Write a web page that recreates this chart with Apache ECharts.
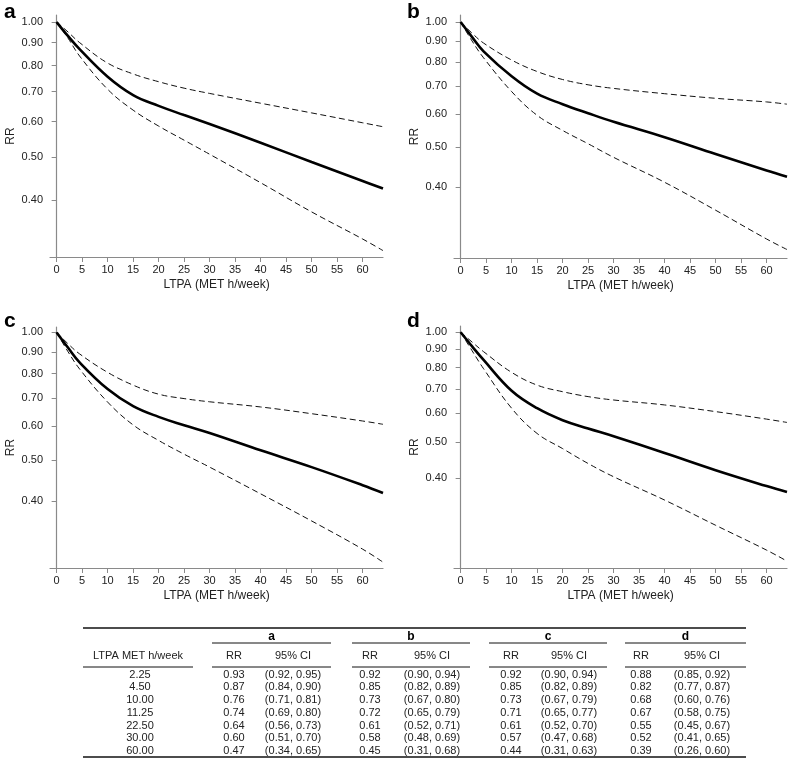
<!DOCTYPE html>
<html>
<head>
<meta charset="utf-8">
<script src="https://cdn.jsdelivr.net/npm/echarts@6/dist/echarts.min.js"></script>
<style>
html,body{margin:0;padding:0;background:#fff;}
#chart{width:794px;height:759px;}
</style>
</head>
<body>
<div id="chart"></div>
<script>
// ---- curve data ----
var xVals = [0, 2.25, 4.5, 10, 15, 20, 25, 30, 40, 50, 60, 64];

var rrA = [1, 0.93, 0.87, 0.755, 0.687, 0.65, 0.62, 0.592, 0.538, 0.487, 0.442, 0.425];
var upA = [1, 0.95, 0.90, 0.81, 0.766, 0.736, 0.712, 0.693, 0.659, 0.627, 0.596, 0.584];
var loA = [1, 0.92, 0.84, 0.708, 0.636, 0.586, 0.545, 0.507, 0.438, 0.377, 0.328, 0.309];

var rrB = [1, 0.92, 0.85, 0.74, 0.672, 0.634, 0.603, 0.575, 0.528, 0.481, 0.439, 0.424];
var upB = [1, 0.94, 0.89, 0.81, 0.76, 0.727, 0.706, 0.692, 0.672, 0.655, 0.642, 0.634];
var loB = [1, 0.90, 0.82, 0.68, 0.596, 0.548, 0.509, 0.472, 0.411, 0.352, 0.30, 0.283];

var rrC = [1, 0.92, 0.85, 0.735, 0.67, 0.632, 0.604, 0.579, 0.527, 0.481, 0.436, 0.418];
var upC = [1, 0.94, 0.89, 0.805, 0.751, 0.715, 0.698, 0.686, 0.667, 0.643, 0.618, 0.607];
var loC = [1, 0.90, 0.82, 0.685, 0.605, 0.556, 0.516, 0.481, 0.416, 0.359, 0.308, 0.287];

var rrD = [1, 0.915, 0.84, 0.692, 0.62, 0.575, 0.546, 0.52, 0.468, 0.42, 0.38, 0.366];
var upD = [1, 0.94, 0.885, 0.777, 0.717, 0.688, 0.667, 0.653, 0.633, 0.607, 0.579, 0.567];
var loD = [1, 0.89, 0.795, 0.62, 0.529, 0.481, 0.438, 0.403, 0.348, 0.297, 0.254, 0.237];

// ---- axis ticks ----
var xTicks = [0, 5, 10, 15, 20, 25, 30, 35, 40, 45, 50, 55, 60];
var yTicks = [0.4, 0.5, 0.6, 0.7, 0.8, 0.9, 1.0];
var panelLetters = ['a', 'b', 'c', 'd'];
var xTitle = 'LTPA (MET h/week)';
var yTitle = 'RR';

// ---- table data ----
var tabLTPA = ['2.25', '4.50', '10.00', '11.25', '22.50', '30.00', '60.00'];
var tabRR = {
  a: [0.93, 0.87, 0.76, 0.74, 0.64, 0.60, 0.47],
  b: [0.92, 0.85, 0.73, 0.72, 0.61, 0.58, 0.45],
  c: [0.92, 0.85, 0.73, 0.71, 0.61, 0.57, 0.44],
  d: [0.88, 0.82, 0.68, 0.67, 0.55, 0.52, 0.39]
};
var tabLo = {
  a: [0.92, 0.84, 0.71, 0.69, 0.56, 0.51, 0.34],
  b: [0.90, 0.82, 0.67, 0.65, 0.52, 0.48, 0.31],
  c: [0.90, 0.82, 0.67, 0.65, 0.52, 0.47, 0.31],
  d: [0.85, 0.77, 0.60, 0.58, 0.45, 0.41, 0.26]
};
var tabHi = {
  a: [0.95, 0.90, 0.81, 0.80, 0.73, 0.70, 0.65],
  b: [0.94, 0.89, 0.80, 0.79, 0.71, 0.69, 0.68],
  c: [0.94, 0.89, 0.79, 0.77, 0.70, 0.68, 0.63],
  d: [0.92, 0.87, 0.76, 0.75, 0.67, 0.65, 0.60]
};

// ---- layout ----
var FONT = '"Liberation Sans", Arial, Helvetica, sans-serif';
var grids = [
  {left: 50, top: 15, width: 333, height: 242},
  {left: 454, top: 15, width: 333, height: 243},
  {left: 50, top: 327, width: 333, height: 241},
  {left: 454, top: 326, width: 333, height: 242}
];
var yMin = [0.299, 0.27, 0.278, 0.227];
var yMax = [1.037, 1.04, 1.03, 1.04];
var panels = [[rrA, upA, loA], [rrB, upB, loB], [rrC, upC, loC], [rrD, upD, loD]];

function pairs(ys) { return xVals.map(function (x, i) { return [x, ys[i]]; }); }

var axisColor = '#8a8a8a';
var xAxes = [], yAxes = [], series = [];
grids.forEach(function (g, i) {
  xAxes.push({
    type: 'value', gridIndex: i, min: -1.3, max: 64,
    axisLine: {show: true, lineStyle: {color: axisColor, width: 1.2}},
    axisTick: {show: true, length: 5, customValues: xTicks, lineStyle: {color: axisColor, width: 1}},
    axisLabel: {customValues: xTicks, fontSize: 11, color: '#222', margin: 7, fontFamily: FONT},
    splitLine: {show: false},
    name: xTitle, nameLocation: 'middle', nameGap: 22,
    nameTextStyle: {fontSize: 12, color: '#222', fontFamily: FONT}
  });
  yAxes.push({
    type: 'log', logBase: 10, gridIndex: i, min: yMin[i], max: yMax[i],
    axisLine: {show: true, lineStyle: {color: axisColor, width: 1.2}},
    axisTick: {show: true, length: 5, customValues: yTicks, lineStyle: {color: axisColor, width: 1}},
    axisLabel: {customValues: yTicks, fontSize: 11, color: '#222', margin: 7, fontFamily: FONT,
      formatter: function (v) { return Number(v).toFixed(2); }},
    splitLine: {show: false}, minorTick: {show: false},
    name: yTitle, nameLocation: 'middle', nameGap: 33,
    nameTextStyle: {fontSize: 12, color: '#222', fontFamily: FONT}
  });
  var p = panels[i];
  series.push({
    type: 'line', xAxisIndex: i, yAxisIndex: i, data: pairs(p[1]), showSymbol: false,
    smooth: 0.4, silent: true, z: 2,
    lineStyle: {color: '#111', width: 1, type: [6, 3.5]}
  });
  series.push({
    type: 'line', xAxisIndex: i, yAxisIndex: i, data: pairs(p[2]), showSymbol: false,
    smooth: 0.4, silent: true, z: 2,
    lineStyle: {color: '#111', width: 1, type: [6, 3.5]}
  });
  series.push({
    type: 'line', xAxisIndex: i, yAxisIndex: i, data: pairs(p[0]), showSymbol: false,
    smooth: 0.4, silent: true, z: 3,
    lineStyle: {color: '#000', width: 2.6}
  });
});

// ---- graphics: panel letters and table ----
var graphic = [];
var letterPos = [[4, 23], [407, 23], [4, 332], [407, 332]];
panelLetters.forEach(function (l, i) {
  graphic.push({type: 'text', x: letterPos[i][0], y: letterPos[i][1], silent: true,
    style: {text: l, font: 'bold 21px ' + FONT, fill: '#000', textVerticalAlign: 'bottom', textAlign: 'left'}});
});

function txt(s, x, y, bold) {
  graphic.push({type: 'text', x: x, y: y, silent: true,
    style: {text: s, font: (bold ? 'bold 12px ' : '11px ') + FONT, fill: bold ? '#000' : '#222',
      textAlign: 'center', textVerticalAlign: 'middle'}});
}
function hline(x1, x2, y, w) {
  graphic.push({type: 'line', silent: true, shape: {x1: x1, y1: y, x2: x2, y2: y},
    style: {stroke: '#111', lineWidth: w || 1}});
}

var tLeft = 83, tRight = 746;
var segs = [[212, 331], [352, 470], [489, 607], [625, 746]];
var rrX = [234, 370, 511, 641];
var ciX = [293, 432, 569, 702];
var yTop = 628, yGroup = 636.5, yGroupLine = 643, yHead = 655.5, yHeadLine = 667, yRow0 = 674.5, rowH = 12.75, yBottom = 757;

hline(tLeft, tRight, yTop, 1.3);
hline(tLeft, tRight, yBottom, 1.3);
txt('LTPA MET h/week', 138, yHead);
hline(tLeft, 193, yHeadLine, 1);
tabLTPA.forEach(function (s, r) { txt(s, 140, yRow0 + r * rowH); });

panelLetters.forEach(function (l, k) {
  var s = segs[k];
  txt(l, (s[0] + s[1]) / 2, yGroup, true);
  hline(s[0], s[1], yGroupLine, 1);
  txt('RR', rrX[k], yHead);
  txt('95% CI', ciX[k], yHead);
  hline(s[0], s[1], yHeadLine, 1);
  tabRR[l].forEach(function (v, r) {
    txt(v.toFixed(2), rrX[k], yRow0 + r * rowH);
    txt('(' + tabLo[l][r].toFixed(2) + ', ' + tabHi[l][r].toFixed(2) + ')', ciX[k], yRow0 + r * rowH);
  });
});

var chart = echarts.init(document.getElementById('chart'), null, {renderer: 'canvas'});
chart.setOption({
  animation: false,
  backgroundColor: '#fff',
  grid: grids.map(function (g) { return Object.assign({containLabel: false}, g); }),
  xAxis: xAxes,
  yAxis: yAxes,
  series: series,
  graphic: graphic
});
</script>
</body>
</html>
